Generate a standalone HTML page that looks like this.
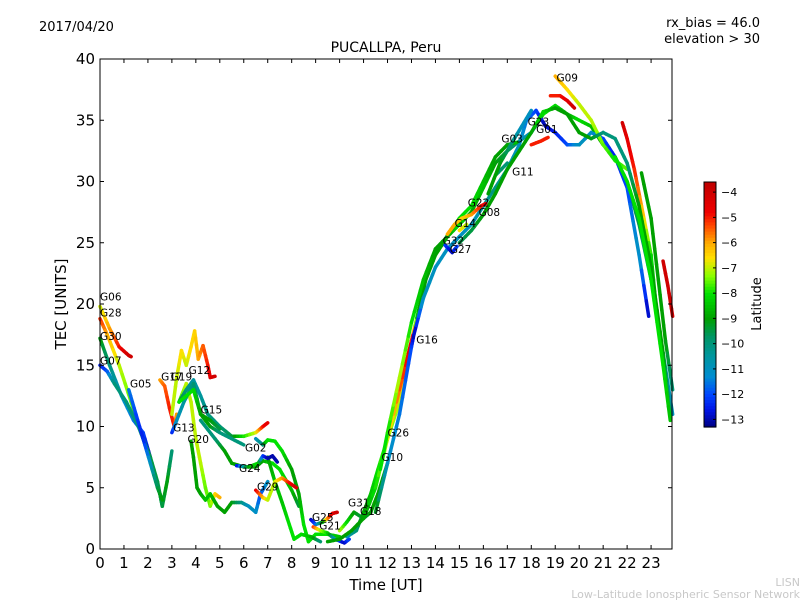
<!DOCTYPE html>
<html><head><meta charset="utf-8"><style>
body{margin:0;background:#fff;}
svg text{font-family:"DejaVu Sans","Liberation Sans",sans-serif;}
</style></head><body>
<svg id="chart" width="800" height="600" viewBox="0 0 800 600">
<rect width="800" height="600" fill="#fff"/>
<text x="39" y="31" font-size="13">2017/04/20</text>
<text x="760" y="27" font-size="13" text-anchor="end">rx_bias = 46.0</text>
<text x="760" y="43" font-size="13" text-anchor="end">elevation &gt; 30</text>
<text x="386" y="52" font-size="14" text-anchor="middle">PUCALLPA, Peru</text>
<g id="tracks"></g>
<g id="labels"></g>
<rect x="100" y="59" width="572" height="490" fill="none" stroke="#000" stroke-width="1"/>
<g id="axes"></g>
<text x="386" y="590" font-size="15" text-anchor="middle">Time [UT]</text>
<text transform="translate(66,304) rotate(-90)" font-size="15" text-anchor="middle">TEC [UNITS]</text>
<g id="cbar"></g>
<text transform="translate(761,304) rotate(-90)" font-size="13" text-anchor="middle">Latitude</text>
<text x="800" y="586" font-size="11" fill="#c8c8c8" text-anchor="end">LISN</text>
<text x="800" y="598" font-size="11" fill="#c8c8c8" text-anchor="end">Low-Latitude Ionospheric Sensor Network</text>
</svg>
<script>
const xTicks=[0,1,2,3,4,5,6,7,8,9,10,11,12,13,14,15,16,17,18,19,20,21,22,23];
const yTicks=[0,5,10,15,20,25,30,35,40];
const cTicks=[-4,-5,-6,-7,-8,-9,-10,-11,-12,-13];
const trackNames=["G06","G28","G30","G07","G05","G17","G12","G12b","G15","G13","G20","G20b","G02","G02b","G24","G29","G25","G21","G31","G18","G26","G16","G10","G09","G23","G01","G22r","G22g","G14","G32","G27","G11","G30r","G03","G08","G08b","G19"];
const T_G06=[[0,19.8,-7],[0.4,18,-6],[0.8,16.5,-5],[1.2,15.8,-4],[1.3,15.7,-4]];
const T_G28=[[0,18.8,-5],[0.3,17.5,-6],[0.8,15,-7],[1.3,12,-7.5],[1.8,9,-8],[2.2,6.5,-8.5],[2.5,4.5,-9],[2.6,3.5,-9.5]];
const T_G30=[[0,17.2,-9],[0.4,15,-10],[0.9,12.5,-11],[1.4,10.5,-11.5],[1.8,9.5,-12],[2.1,7.5,-13]];
const T_G07=[[0,15,-12.5],[0.3,14.5,-12],[0.6,13.5,-10],[1.1,12,-10],[1.6,10,-10],[2.1,7.5,-9.5],[2.4,5.5,-9.5],[2.6,3.5,-9.5],[2.8,5.5,-9],[3,8,-10]];
const T_G05=[[1.2,13,-11.5],[1.5,11,-12],[1.8,9,-12.5],[2.1,7,-11],[2.4,5,-9.5],[2.6,4,-9]];
const T_G17=[[2.5,13.8,-6],[2.7,13.3,-5.5],[2.9,11.5,-5],[3.1,10,-5],[3.2,11,-6]];
const T_G12=[[3,11,-7],[3.2,14,-7],[3.4,16.2,-6.5],[3.6,15,-7],[3.8,16.5,-6.5],[3.95,17.8,-6.5],[4.1,15.5,-6],[4.3,16.6,-5.5],[4.5,15,-5],[4.6,14,-4.5],[4.8,14.1,-4]];
const T_G12b=[[3.3,12,-8],[3.6,13.5,-7],[3.8,12,-7],[4,9,-7],[4.2,7,-7],[4.4,5,-7.5],[4.6,3.5,-7.5],[4.8,4.5,-6.5],[5,4.2,-6]];
const T_G15=[[3.3,12,-9],[3.6,13,-10],[3.9,13.8,-10.5],[4.2,12.5,-10.5],[4.5,11,-10],[5,10,-10],[5.5,9.2,-9.5],[6,9.2,-8],[6.5,9.5,-7],[6.8,10,-5],[7,10.3,-4.5]];
const T_G13=[[3,9.5,-12.5],[3.2,10.5,-11],[3.5,12,-10.5],[3.9,13.5,-10],[4.2,11,-9],[4.6,10,-9],[5,9.5,-10],[5.5,9,-10],[6,8.5,-10]];
const T_G20=[[3.8,8.8,-9],[3.9,7.5,-9],[4.05,5,-9],[4.2,4.5,-9],[4.4,4,-8.5],[4.6,4.5,-8.5],[4.9,3.5,-9],[5.2,3,-9],[5.5,3.8,-9],[5.9,3.8,-10],[6.2,3.5,-11],[6.5,3,-11],[6.7,4.5,-12],[7,5.5,-11]];
const T_G20b=[[4.2,10.5,-10],[4.8,9,-10],[5.2,8,-9],[5.5,7,-9],[6,6.7,-9],[6.5,6.7,-9],[6.8,7.2,-9],[7.2,7,-8],[7.5,6.5,-8],[8,4.8,-8.5],[8.3,3.5,-9.5]];
const T_G02=[[6.5,9,-11],[6.8,8.5,-10],[7,8.9,-8],[7.3,8.8,-8],[7.6,8,-8],[8,6.5,-9],[8.3,4.5,-9],[8.5,2,-8],[8.7,0.6,-8],[9,1.2,-8],[9.5,1.2,-8],[10,1,-8.5]];
const T_G02b=[[7,7.5,-9],[7.3,5.5,-8.5],[7.6,3.8,-8.5],[7.9,2,-8],[8.1,0.8,-8],[8.4,1.2,-8],[8.8,1,-8.5],[9.2,0.6,-10]];
const T_G24=[[5.7,6.8,-13],[6.2,6.7,-9],[6.6,7,-8],[6.8,7.6,-12],[7,7.4,-13],[7.2,7.6,-13],[7.4,7.1,-13]];
const T_G29=[[6.5,4.8,-4.5],[6.8,4.2,-6],[7,4,-7],[7.3,5.5,-7],[7.6,5.8,-6],[7.9,5.4,-5],[8.2,5,-4]];
const T_G25=[[8.8,2.4,-13],[9,2,-12],[9.3,2.2,-9],[9.5,2.5,-6],[9.7,2.9,-4.5],[9.9,3,-4]];
const T_G21=[[8.9,1.8,-5],[9.2,1.5,-7],[9.5,1.3,-8],[9.8,0.8,-11],[10.2,0.5,-13],[10.4,0.8,-12]];
const T_G31=[[10,1.5,-7],[10.3,2.2,-8],[10.6,3,-9],[11,2.5,-9.5],[11.3,3,-9],[11.6,4.5,-9],[12,7,-9]];
const T_G18=[[10.3,1,-11],[10.7,1.5,-10],[11,3,-9],[11.3,4.5,-8.5],[11.6,6.5,-8],[12,9,-7.5],[12.5,12,-7],[12.9,16,-6]];
const T_G26=[[9.5,0.6,-9],[10,0.8,-9],[10.5,1.5,-9],[11,2.5,-9],[11.5,5,-8],[12,9,-7],[12.5,13,-5.5],[13,17,-4.5],[13.3,19.5,-9],[13.6,22,-9],[14,24,-9],[14.5,25.5,-9],[15,26.5,-8],[15.5,27.5,-9],[16,29.5,-8.5],[16.5,31.5,-9],[17,32.5,-9.5],[17.5,33.3,-10],[18,34,-11],[18.5,35.5,-8],[19,36.2,-8],[19.5,35.5,-9],[20,35,-8],[20.5,34.5,-8.5],[21,33,-9],[21.5,32,-9],[22,30,-9.5],[22.5,26.5,-9.5],[23,22,-10],[23.5,16,-10.5],[23.9,11,-11]];
const T_G16=[[11.5,3,-9],[12,7,-11],[12.5,11,-11.5],[13,16.5,-12],[13.1,17.5,-13],[13.5,20.5,-11],[14,23,-11],[14.5,24.5,-11],[15,25.5,-11],[15.5,26.5,-11],[16,28,-10.5],[16.5,29.5,-10],[17,31,-10.5],[17.5,33,-11],[17.8,35,-11.5],[18.2,35.8,-12],[18.6,34.5,-13],[19,34,-12.5],[19.5,33,-12],[20,33,-11],[20.5,34,-11],[21,33.5,-12],[21.5,32,-12.5],[22,29.5,-12],[22.5,24,-11],[22.9,19,-13]];
const T_G10=[[11.7,6.5,-8],[12,9.5,-8],[12.5,14,-7],[13,18.5,-8],[13.5,22,-8.5],[14,24.5,-9],[14.4,25.3,-9],[15,27,-8],[15.5,28,-8],[16,30,-8.5],[16.5,32,-9],[17,33,-9],[17.4,33.2,-8.5]];
const T_G09=[[19,38.6,-6],[19.5,37.5,-6.5],[20,36.3,-7],[20.5,35,-7],[21,33,-7.5],[21.5,31.7,-8],[22,31,-7.5]];
const T_G23=[[18,33,-5],[18.4,33.3,-5],[18.7,33.6,-5]];
const T_G01=[[18.8,37,-5],[19.2,37,-5],[19.5,36.6,-4.5],[19.8,36,-4]];
const T_G22r=[[21.8,34.8,-4],[22,33.5,-4.5],[22.3,31,-5],[22.6,28,-6],[23,24,-8],[23.2,20,-9]];
const T_G22g=[[22.6,30.7,-9],[23,27,-9],[23.3,22,-9],[23.6,17,-9],[23.9,13,-10]];
const T_G14=[[14.5,25.7,-6],[14.8,26.5,-6],[15.1,27,-6.5],[15.5,27.3,-6],[15.9,28,-5],[16.1,28.2,-4.5]];
const T_G32=[[14.4,24.8,-12],[14.7,24.2,-13],[14.9,24.7,-12]];
const T_G27=[[15,26,-6.5],[15.3,26.5,-7]];
const T_G11=[[16.5,30.5,-9.5],[17,31.5,-10]];
const T_G30r=[[23.5,23.5,-4],[23.7,21.5,-4],[23.9,19,-4]];
const T_G03=[[16.2,29,-9],[16.7,31.5,-9],[17.2,33.2,-10],[17.6,34.5,-11],[18,35.8,-11]];
const T_G08=[[15,25,-9.5],[15.5,26,-9.5],[16,27.3,-9],[16.5,29,-9],[17,31,-9],[17.5,32.5,-9],[18,34,-9],[18.5,35.7,-8],[19,36,-9],[19.5,35.5,-9],[20,34,-9],[20.5,33.5,-9],[21,34,-10],[21.5,33.5,-10],[22,31.5,-10],[22.5,28,-9],[23,23,-9],[23.5,16,-9],[23.8,11,-10]];
const T_G08b=[[21.5,32,-8],[22,30,-8],[22.5,27,-8],[23,22,-8],[23.5,15,-8],[23.8,10.5,-8.5]];
const T_G19=[[3.3,12,-8],[3.6,12.5,-8],[3.9,13,-8],[4.2,11,-9],[4.6,10.5,-9],[5,9.8,-9.5]];
const tracks=[T_G06,T_G28,T_G30,T_G07,T_G05,T_G17,T_G12,T_G12b,T_G15,T_G13,T_G20,T_G20b,T_G02,T_G02b,T_G24,T_G29,T_G25,T_G21,T_G31,T_G18,T_G26,T_G16,T_G10,T_G09,T_G23,T_G01,T_G22r,T_G22g,T_G14,T_G32,T_G27,T_G11,T_G30r,T_G03,T_G08,T_G08b,T_G19];
const labelNames=["G06","G28","G30","G07","G05","G17","G19","G12","G15","G13","G20","G02","G24","G29","G25","G21","G31","G18","G26","G10","G16","G32","G27","G14","G22","G08","G03","G11","G23","G01","G09"];
const labelTimes=[0,0,0,0,1.25,2.55,2.95,3.7,4.2,3.05,3.65,6.05,5.8,6.55,8.85,9.15,10.35,10.85,12.0,11.75,13.2,14.3,14.6,14.8,15.35,15.8,16.75,17.2,17.85,18.2,19.05];
const labelValues=[20.6,19.3,17.4,15.4,13.5,14.1,14.1,14.6,11.4,9.9,9.0,8.3,6.6,5.1,2.6,1.9,3.8,3.1,9.5,7.5,17.1,25.2,24.5,26.6,28.3,27.5,33.5,30.8,34.9,34.3,38.5];
const X0=100,XS=23.96,Y0=549,YS=12.25;
const xs=t=>X0+t*XS, ys=v=>Y0-v*YS;
const CMIN=-13.3,CMAX=-3.6;
const stops=[[-13.3,[0,0,128]],[-12.6,[0,20,230]],[-12,[0,70,255]],[-11.3,[0,140,210]],[-10.5,[0,150,160]],[-9.7,[0,150,100]],[-9,[0,160,0]],[-8,[0,225,0]],[-7.3,[140,255,0]],[-6.6,[255,225,0]],[-6,[255,170,0]],[-5.3,[255,70,0]],[-4.8,[240,0,0]],[-3.6,[190,0,0]]];
function jet(l){
 if(l<=stops[0][0])return `rgb(${stops[0][1]})`;
 for(let i=0;i<stops.length-1;i++){const a=stops[i],b=stops[i+1];
  if(l<=b[0]){const f=(l-a[0])/(b[0]-a[0]);return `rgb(${a[1].map((c,k)=>Math.round(c+(b[1][k]-c)*f)).join(',')})`;}}
 return `rgb(${stops[stops.length-1][1]})`;}
const NS="http://www.w3.org/2000/svg";
function mk(tag,attrs,parent){const e=document.createElementNS(NS,tag);for(const k in attrs)e.setAttribute(k,attrs[k]);parent.appendChild(e);return e;}
const g=document.getElementById('tracks');
tracks.forEach((tr,i)=>{
 const tg=mk('g',{},g);
 
 
 for(let j=0;j<tr.length-1;j++){
  const a=tr[j],b=tr[j+1];
  for(let k=0;k<4;k++){
   const f0=k/4,f1=(k+1)/4;
   const l=a[2]+(b[2]-a[2])*(f0+f1)/2;
   const ln=mk('line',{x1:xs(a[0]+(b[0]-a[0])*f0),y1:ys(a[1]+(b[1]-a[1])*f0),x2:xs(a[0]+(b[0]-a[0])*f1),y2:ys(a[1]+(b[1]-a[1])*f1),stroke:jet(l),'stroke-width':3.5,'stroke-linecap':'round'},tg);
   
   
  }
 }
});
const lg=document.getElementById('labels');
labelNames.forEach((n,i)=>{
 const t=mk('text',{x:xs(labelTimes[i]),y:ys(labelValues[i])+4,'font-size':10.5},lg);
 t.textContent=n;
 
 
});
const ax=document.getElementById('axes');
xTicks.forEach(v=>{
 const x=xs(v);
 mk('line',{x1:x,y1:549,x2:x,y2:545,stroke:'#000'},ax);
 mk('line',{x1:x,y1:59,x2:x,y2:63,stroke:'#000'},ax);
 const t=mk('text',{x:x,y:568,'font-size':15,'text-anchor':'middle'},ax);
 t.textContent=v;
 
 
});
yTicks.forEach(v=>{
 const y=ys(v);
 mk('line',{x1:100,y1:y,x2:104,y2:y,stroke:'#000'},ax);
 mk('line',{x1:672,y1:y,x2:668,y2:y,stroke:'#000'},ax);
 const t=mk('text',{x:95,y:y+5,'font-size':15,'text-anchor':'end'},ax);
 t.textContent=v;
 
 
});
const cb=document.getElementById('cbar');
const CT=182,CB=427,CX=704,CW=12;
const cy=l=>CB-(l-CMIN)/(CMAX-CMIN)*(CB-CT);
for(let i=0;i<80;i++){
 const l0=CMIN+(CMAX-CMIN)*i/80,l1=CMIN+(CMAX-CMIN)*(i+1)/80;
 mk('rect',{x:CX,y:cy(l1),width:CW,height:cy(l0)-cy(l1)+0.6,fill:jet((l0+l1)/2)},cb);
}
mk('rect',{x:CX,y:CT,width:CW,height:CB-CT,fill:'none',stroke:'#000'},cb);
cTicks.forEach(v=>{
 const y=cy(v);
 mk('line',{x1:CX+CW-3,y1:y,x2:CX+CW,y2:y,stroke:'#000'},cb);
 const t=mk('text',{x:CX+CW+5,y:y+4,'font-size':11},cb);
 t.textContent='\u2212'+Math.abs(v);
 
 
});
</script>
</body></html>
